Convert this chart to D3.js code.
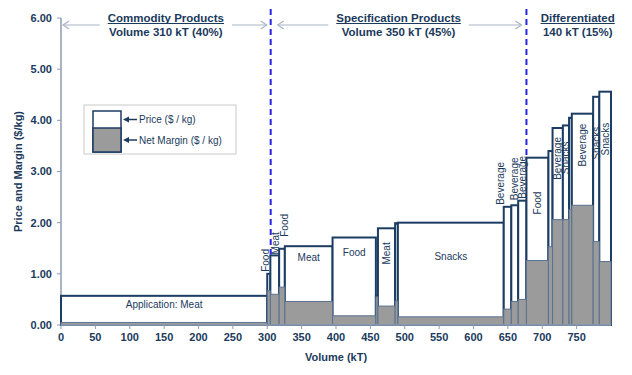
<!DOCTYPE html>
<html><head><meta charset="utf-8">
<script src="https://cdn.jsdelivr.net/npm/d3@7"></script>
<style>body{margin:0;background:#fff} svg{display:block;font-family:"Liberation Sans",Arial,sans-serif}</style>
</head><body><svg id="c" width="632" height="375"></svg>
<script>
// ---- data ----
const labels  = ["Application: Meat","Food","Meat","Food","Meat","Food","","Meat","","Snacks","Beverage","Beverage","Beverage","Food","","Beverage","Snacks","","Beverage","Snacks","Snacks"];
const volumes = [300,4.5,12.8,8.3,69.4,63,3,25,4,154,11,10,12,32,6,15,9,4,31,9,17];
const prices  = [0.57,1.00,1.36,1.49,1.54,1.71,0.56,1.89,1.99,2.00,2.31,2.34,2.43,3.27,3.40,3.85,3.90,4.05,4.13,4.46,4.56];
const margins = [0.05,0.67,0.60,0.74,0.46,0.18,0.55,0.37,0.47,0.16,0.31,0.46,0.50,1.26,1.53,2.06,2.06,2.26,2.34,1.63,1.24];
const xTicks = [0,50,100,150,200,250,300,350,400,450,500,550,600,650,700,750];
const yTicks = [0,1,2,3,4,5,6];
const boundaries = [305, 677];
const segTitles = ["Commodity Products","Specification Products","Differentiated"];
const segSubs   = ["Volume 310 kT (40%)","Volume 350 kT (45%)","140 kT (15%)"];
const legendItems = ["Price ($ / kg)","Net Margin ($ / kg)"];

// ---- layout ----
const navy = "#1b3a5c", barStroke = "#1c3d63", gray = "#9b9b9b", marginStroke = "#5a7290", axisCol = "#8c9cb2", arrowCol = "#a9b5c6";
const svg = d3.select("#c");
const x = d3.scaleLinear().domain([0,800]).range([61,611]);
const y = d3.scaleLinear().domain([0,6]).range([325,18]);
const ends = Array.from(d3.cumsum(volumes));
const bars = volumes.map((v,i)=>({i, x0: ends[i]-v, x1: ends[i], p: prices[i], m: margins[i], label: labels[i]}));

// label layout: mode h=horizontal inside, v=vertical inside, a=vertical above; d=offset px; dx nudge
const lay = {0:{m:"h",d:9},1:{m:"a",d:2,dx:-3.5},2:{m:"a",d:1,dx:1},3:{m:"a",d:12,dx:3},4:{m:"h",d:11},5:{m:"h",d:15},
  7:{m:"v",d:14},9:{m:"h",d:34},10:{m:"a",d:2,dx:-7},11:{m:"a",d:5},12:{m:"a",d:2},13:{m:"v",d:34},
  15:{m:"v",d:9},16:{m:"v",d:16},18:{m:"v",d:10},19:{m:"v",d:30},20:{m:"v",d:31}};

// axes
svg.append("line").attr("x1",x(0)).attr("x2",x(0)).attr("y1",y(6)).attr("y2",y(0)).attr("stroke",axisCol).attr("stroke-width",1.5);
svg.selectAll(".yt").data(yTicks).enter().append("line").attr("x1",x(0)-4).attr("x2",x(0)).attr("y1",d=>y(d)).attr("y2",d=>y(d)).attr("stroke",axisCol);
svg.selectAll(".yl").data(yTicks).enter().append("text").attr("x",52).attr("y",d=>y(d)).attr("dy","0.35em")
  .attr("text-anchor","end").attr("font-size",11).attr("font-weight","bold").attr("fill",navy).text(d=>d.toFixed(2));
svg.append("text").attr("transform",`translate(22,${(y(0)+y(6))/2}) rotate(-90)`).attr("text-anchor","middle")
  .attr("font-size",11).attr("font-weight","bold").attr("fill",navy).text("Price and Margin ($/kg)");

// bars
const g = svg.append("g");
bars.forEach(b=>{
  g.append("rect").attr("x",x(b.x0)).attr("width",x(b.x1)-x(b.x0)).attr("y",y(b.p)).attr("height",y(0)-y(b.p))
    .attr("fill","#fff").attr("stroke",barStroke).attr("stroke-width",2);
});
bars.forEach(b=>{
  g.append("rect").attr("x",x(b.x0)).attr("width",x(b.x1)-x(b.x0)).attr("y",y(b.m)).attr("height",y(0)-y(b.m))
    .attr("fill",gray).attr("stroke",marginStroke).attr("stroke-width",1);
});

// x axis
svg.append("line").attr("x1",x(0)).attr("x2",x(800)).attr("y1",y(0)).attr("y2",y(0)).attr("stroke",axisCol).attr("stroke-width",1.5);
svg.selectAll(".xt").data(xTicks).enter().append("line").attr("x1",d=>x(d)).attr("x2",d=>x(d)).attr("y1",y(0)).attr("y2",y(0)+4).attr("stroke",axisCol);
svg.selectAll(".xl").data(xTicks).enter().append("text").attr("x",d=>x(d)).attr("y",341).attr("text-anchor","middle")
  .attr("font-size",11).attr("font-weight","bold").attr("fill",navy).text(d=>d);
svg.append("text").attr("x",(x(0)+x(800))/2).attr("y",361).attr("text-anchor","middle")
  .attr("font-size",11).attr("font-weight","bold").attr("fill",navy).text("Volume (kT)");

// bar labels
bars.forEach(b=>{
  const L = lay[b.i]; if(!L || !b.label) return;
  const cx = (x(b.x0)+x(b.x1))/2 + (L.dx||0), top = y(b.p);
  const t = svg.append("text").attr("font-size",10).attr("fill",navy).text(b.label);
  if(L.m==="h"){
    t.attr("x",cx).attr("y",top+L.d).attr("dy","0.35em").attr("text-anchor","middle");
  } else if(L.m==="v"){
    t.attr("transform",`translate(${cx},${top+L.d}) rotate(-90)`).attr("text-anchor","end").attr("dy","0.35em");
  } else {
    t.attr("transform",`translate(${cx},${top-L.d}) rotate(-90)`).attr("text-anchor","start").attr("dy","0.35em");
  }
});

// boundaries (dashed)
boundaries.forEach(v=>{
  const b = bars.find(bb=>v>=bb.x0 && v<bb.x1);
  svg.append("line").attr("x1",x(v)).attr("x2",x(v)).attr("y1",9).attr("y2",y(b.p)-1)
    .attr("stroke","#2626e0").attr("stroke-width",2).attr("stroke-dasharray","6,4");
});

// segment headers
const edges = [x(0), x(boundaries[0]), x(boundaries[1]), 629];
function arrow(x1,x2,yy){ // head at x2
  svg.append("line").attr("x1",x1).attr("x2",x2).attr("y1",yy).attr("y2",yy).attr("stroke",arrowCol).attr("stroke-width",1.2);
  const s = x2>x1?-1:1;
  svg.append("path").attr("d",`M${x2+s*6},${yy-4}L${x2},${yy}L${x2+s*6},${yy+4}`).attr("fill","none").attr("stroke",arrowCol).attr("stroke-width",1.2);
}
segTitles.forEach((t,i)=>{
  const cx = (edges[i]+edges[i+1])/2;
  const t1 = svg.append("text").attr("x",cx).attr("y",22).attr("text-anchor","middle").attr("font-size",11.5)
    .attr("font-weight","bold").attr("fill",navy).text(t);
  const t2 = svg.append("text").attr("x",cx).attr("y",36).attr("text-anchor","middle").attr("font-size",11.5)
    .attr("font-weight","bold").attr("fill",navy).text(segSubs[i]);
  const w1 = t1.node().getComputedTextLength();
  const w = Math.max(w1, t2.node().getComputedTextLength());
  svg.append("line").attr("x1",cx-w1/2).attr("x2",cx+w1/2).attr("y1",23.5).attr("y2",23.5).attr("stroke",navy).attr("stroke-width",1);
  if(i<2){
    const leftTip = i===0 ? edges[0]+2 : edges[1]+7;
    const rightTip = i===0 ? edges[1]-4 : edges[2]-5;
    arrow(cx-w/2-8, leftTip, 25);
    arrow(cx+w/2+8, rightTip, 25);
  }
});

// legend
const lg = svg.append("g");
lg.append("rect").attr("x",84).attr("y",105).attr("width",152).attr("height",49).attr("fill","#fff").attr("stroke","#c9c9c9");
lg.append("rect").attr("x",93).attr("y",111).attr("width",28).attr("height",41).attr("fill","#fff").attr("stroke",barStroke).attr("stroke-width",1.5);
lg.append("rect").attr("x",93).attr("y",128).attr("width",28).attr("height",24).attr("fill",gray).attr("stroke",barStroke).attr("stroke-width",1.5);
legendItems.forEach((t,i)=>{
  const yy = i===0 ? 119.5 : 140;
  lg.append("line").attr("x1",137).attr("x2",126).attr("y1",yy).attr("y2",yy).attr("stroke",navy).attr("stroke-width",1.5);
  lg.append("path").attr("d",`M123,${yy}L129,${yy-3}L129,${yy+3}Z`).attr("fill",navy);
  lg.append("text").attr("x",139).attr("y",yy).attr("dy","0.35em").attr("font-size",10).attr("fill",navy).text(t);
});
</script></body></html>
